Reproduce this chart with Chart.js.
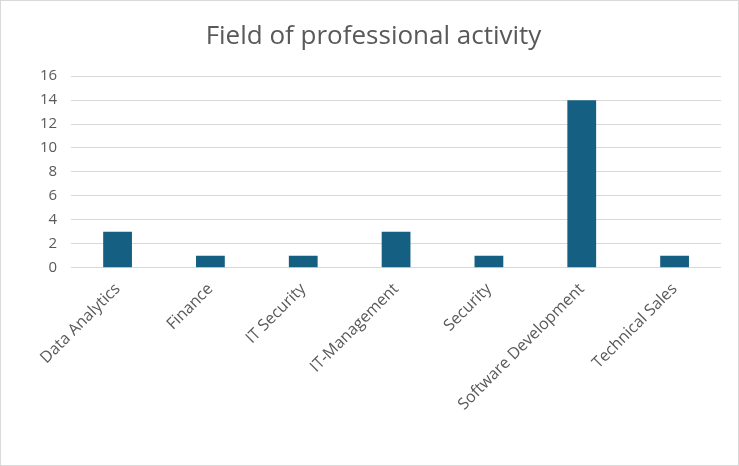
<!DOCTYPE html>
<html>
<head>
<meta charset="utf-8">
<script src="https://cdn.jsdelivr.net/npm/chart.js@4"></script>
<style>
  body { margin: 0; background: #fff; }
  #wrap { width: 737px; height: 464px; border: 1px solid #d9d9d9; }
</style>
</head>
<body>
<div id="wrap"><canvas id="fields" width="737" height="464"></canvas></div>
<script>
const categories = ['Data Analytics', 'Finance', 'IT Security', 'IT-Management', 'Security', 'Software Development', 'Technical Sales'];
const counts = [3, 1, 1, 3, 1, 14, 1];
const yMax = 16;
const yStep = 2;

const fields = document.getElementById("fields");

new Chart(fields, {
    type: 'bar',
    data: {
        labels: categories,
        datasets: [{
            label: 'Field of professional activity',
            data: counts,
            backgroundColor: '#156082',
            categoryPercentage: 1,
            barPercentage: 0.31
        }]
    },
    options: {
        responsive: false,
        animation: false,
        layout: {
            padding: { left: 25, right: 17, top: 10, bottom: 47 }
        },
        plugins: {
            legend: { display: false },
            tooltip: { enabled: false },
            title: {
                display: true,
                text: 'Field of professional activity',
                color: '#595959',
                font: { family: 'Open Sans', size: 26, weight: '400' },
                padding: { top: 10, bottom: 24 }
            }
        },
        scales: {
            x: {
                grid: { display: false },
                border: { display: false },
                ticks: {
                    color: '#595959',
                    font: { family: 'Open Sans', size: 16 },
                    maxRotation: 45,
                    minRotation: 45,
                    padding: 4
                }
            },
            y: {
                min: 0,
                max: yMax,
                grid: { color: '#d9d9d9', lineWidth: 1, drawTicks: false },
                border: { display: false },
                ticks: {
                    stepSize: yStep,
                    color: '#595959',
                    font: { family: 'Open Sans', size: 15 },
                    padding: 14
                }
            }
        }
    }
});
</script>
</body>
</html>
